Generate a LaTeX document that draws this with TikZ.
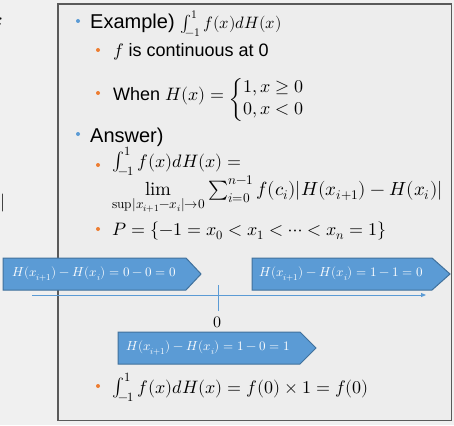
\documentclass[tikz,border=0pt]{standalone}
\usepackage{fontspec}
\usepackage{unicode-math}
\setmainfont{Liberation Sans}
\setmathfont{Latin Modern Math}
\usetikzlibrary{arrows.meta}
\definecolor{pagebg}{RGB}{240,240,240}
\definecolor{boxbg}{RGB}{237,237,237}
\definecolor{frame}{RGB}{90,90,90}
\definecolor{accblue}{RGB}{91,155,213}
\definecolor{accedge}{RGB}{65,113,156}
\definecolor{accorange}{RGB}{237,125,49}
\newcommand{\mylimop}{\mathop{\symup{lim}}\limits}
\newcommand{\mysupop}{\symup{sup}}
\tikzset{
  lvlone/.style={circle, fill=accblue, inner sep=0pt, minimum size=4pt},
  lvltwo/.style={circle, fill=accorange, inner sep=0pt, minimum size=4pt},
  txtone/.style={anchor=base west, inner sep=0pt, font=\fontsize{20}{24}\selectfont},
  txttwo/.style={anchor=base west, inner sep=0pt, font=\fontsize{18}{22}\selectfont},
  homeplate/.style={fill=accblue, draw=accedge, line width=1pt},
  platetext/.style={anchor=west, inner sep=0pt, text=white, font=\fontsize{13}{15}\selectfont},
  axisline/.style={draw=accblue, line width=0.9pt},
}
\begin{document}
\begin{tikzpicture}[x=1pt, y=-1pt]
\useasboundingbox[fill=pagebg] (0,0) rectangle (454,425);
% fragments of the slide behind
\node[anchor=base east, inner sep=0pt, font=\fontsize{20}{24}\selectfont] (fragx) at (3.5,27) {$x$};
\node[anchor=base east, inner sep=0pt, font=\fontsize{18}{22}\selectfont] (fragbar) at (6,207) {$)|$};
% frame
\draw[frame, fill=boxbg, line width=1.6pt] (58,4) rectangle (451.5,420.5);
% line 1
\node[lvlone] (b1) at (78,21) {};
\node[txtone] (t1) at (90,29) {Example) {\fontsize{16.5}{20}\selectfont$\int_{-1}^{1} f(x)dH(x)$}};
% line 2
\node[lvltwo] (b2) at (98,50) {};
\node[txttwo] (t2) at (113,57) {$f$ is continuous at 0};
% line 3
\node[lvltwo] (b3) at (98,93) {};
\node[txttwo] (t3) at (113,100) {When $H(x)=\raisebox{-4pt}{$\left\{\begin{array}{@{}l@{}}1, x\geq 0\\[0pt] 0, x<0\end{array}\right.$}$};
% line 4
\node[lvlone] (b4) at (78,134) {};
\node[txtone] (t4) at (90,142) {Answer)};
% line 5
\node[lvltwo] (b5) at (98,165) {};
\node[txttwo] (t5) at (112,167) {$\int_{-1}^{1} f(x)dH(x) =$};
% line 6
\node[txttwo, font=\fontsize{19}{23}\selectfont] (t6) at (112,195) {$\mylimop_{\mysupop|x_{i+1}-x_i|\to 0}\sum_{i=0}^{n-1} f(c_i)|H(x_{i+1})-H(x_i)|$};
% line 7
\node[lvltwo] (b7) at (98,229) {};
\node[txttwo] (t7) at (112,235) {$P=\{-1=x_0<x_1<\cdots<x_n=1\}$};
% homeplate shapes
\draw[homeplate] (3,258) -- (186,258) -- (201,274) -- (186,290) -- (3,290) -- cycle;
\node[platetext] (p1) at (12,274) {$H(x_{i+1})-H(x_i)=0-0=0$};
\draw[homeplate] (252,258) -- (432,258) -- (450,274) -- (432,290) -- (252,290) -- cycle;
\node[platetext] (p2) at (259,274) {$H(x_{i+1})-H(x_i)=1-1=0$};
% axis
\coordinate (axs) at (32,295);
\coordinate (axe) at (426,295);
\draw[axisline, -{Triangle[length=5pt,width=4pt]}] (axs) -- (axe);
\coordinate (tkt) at (218,285);
\coordinate (tkb) at (218,311);
\draw[axisline] (tkt) -- (tkb);
\node[inner sep=0pt, font=\fontsize{16}{18}\selectfont] (zero) at (217,322) {$0$};
\draw[homeplate] (118,332) -- (300,332) -- (316,348) -- (300,364) -- (118,364) -- cycle;
\node[platetext] (p3) at (126,348) {$H(x_{i+1})-H(x_i)=1-0=1$};
% final line
\node[lvltwo] (b8) at (98,386) {};
\node[txttwo] (t8) at (112,393) {$\int_{-1}^{1} f(x)dH(x)=f(0)\times 1=f(0)$};
\end{tikzpicture}
\end{document}
